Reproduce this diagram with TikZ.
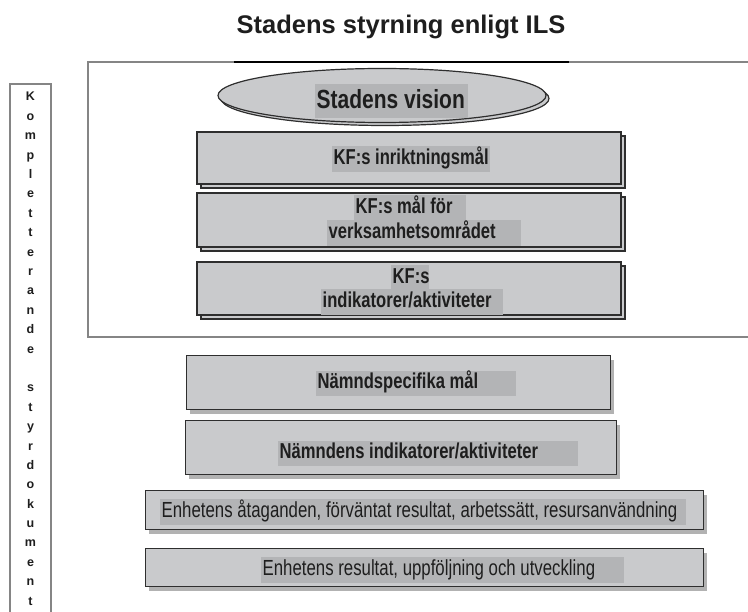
\documentclass[tikz,border=0pt]{standalone}
\usepackage{fontspec}
\setmainfont{Liberation Sans}
\usetikzlibrary{shapes.geometric,shadows}
\definecolor{boxfill}{HTML}{C9CACC}
\definecolor{hlgray}{HTML}{B3B4B6}
\definecolor{edge}{HTML}{2E2E2E}
\definecolor{shade}{HTML}{B2B2B2}
\definecolor{frame}{HTML}{858585}
\definecolor{ink}{HTML}{1E1E1E}
\newcommand{\tallA}[1]{\scalebox{1}[1.3]{#1}}
\begin{document}
\begin{tikzpicture}[x=1pt,y=-1pt,
  topbox/.style={rectangle,draw=edge,fill=boxfill,line width=1.1pt,inner sep=0pt,outer sep=0pt,
    copy shadow={shadow xshift=4pt,shadow yshift=-4pt}},
  lowbox/.style={rectangle,draw=edge,fill=boxfill,line width=1pt,inner sep=0pt,outer sep=0pt,
    drop shadow={shadow xshift=4pt,shadow yshift=-4pt,fill=shade,opacity=1}},
  hl/.style={fill=hlgray,text=ink,inner xsep=1.5pt,inner ysep=3pt,text height=15pt,text depth=4.5pt,
    anchor=west,font=\bfseries\fontsize{16.6}{18}\selectfont},
  hlreg/.style={hl,font=\fontsize{16.8}{18}\selectfont},
  framepen/.style={draw=frame,line width=1.2pt}]
\useasboundingbox (0,0) rectangle (748,612);
\fill[white] (0,0) rectangle (748,612);

% title
\node[anchor=base,text=ink,font=\bfseries\fontsize{25.5}{30}\selectfont] (title) at (401,34) {Stadens styrning enligt ILS};

% outer frame
\draw[framepen] (760,62) -- (88,62) -- (88,337) -- (760,337);
\coordinate (tl) at (234,62);
\coordinate (tr) at (569,62);
\draw[line width=2pt,black] (tl) -- (tr);

% left column
\draw[framepen] (10,625) -- (10,84) -- (51,84) -- (51,625);
\node[anchor=north,align=center,inner sep=0pt,text=ink,font=\bfseries\fontsize{12.5}{19.4}\selectfont] (side) at (30.5,92)
 {K\\o\\m\\p\\l\\e\\t\\t\\e\\r\\a\\n\\d\\e\\~\\s\\t\\y\\r\\d\\o\\k\\u\\m\\e\\n\\t};

% vision ellipse
\node[ellipse,draw=edge,fill=boxfill,line width=1.2pt,inner sep=0pt,minimum width=328pt,minimum height=54pt,
  copy shadow={shadow xshift=3pt,shadow yshift=-3pt}] (vision) at (382,95.5) {};
\node[hl,inner ysep=4.5pt,text height=20pt,text depth=5pt,font=\bfseries\fontsize{21}{24}\selectfont] (visiontxt) at (315,101)
 {\makebox[150pt][l]{\scalebox{1}[1.25]{Stadens vision}}};

% KF boxes
\node[topbox,minimum width=424pt,minimum height=52pt] (b1) at (409,158) {};
\node[topbox,minimum width=424pt,minimum height=54pt] (b2) at (409,220) {};
\node[topbox,minimum width=424pt,minimum height=53pt] (b3) at (409,288.5) {};
\node[hl] (t1) at (332,159) {\makebox[155pt][l]{\tallA{KF:s inriktningsmål}}};
\node[hl] (t2a) at (354,208) {\makebox[109pt][l]{\tallA{KF:s mål för}}};
\node[hl] (t2b) at (327,233) {\makebox[191pt][l]{\tallA{verksamhetsområdet}}};
\node[hl] (t3a) at (391,278) {\makebox[35pt][l]{\tallA{KF:s}}};
\node[hl] (t3b) at (321,302) {\makebox[179pt][l]{\tallA{indikatorer/aktiviteter}}};

% lower boxes
\node[lowbox,minimum width=424pt,minimum height=54pt] (b4) at (398,383) {};
\node[lowbox,minimum width=431pt,minimum height=54pt] (b5) at (400.5,448) {};
\node[lowbox,minimum width=558pt,minimum height=39pt] (b6) at (424,510.5) {};
\node[lowbox,minimum width=558pt,minimum height=38pt] (b7) at (424,568) {};
\node[hl] (t4) at (316,383.5) {\makebox[197pt][l]{\tallA{Nämndspecifika mål}}};
\node[hl] (t5) at (278,453.5) {\makebox[297pt][l]{\tallA{Nämndens indikatorer/aktiviteter}}};
\node[hlreg] (t6) at (160,512) {\makebox[523pt][l]{\tallA{Enhetens åtaganden, förväntat resultat, arbetssätt, resursanvändning}}};
\node[hlreg] (t7) at (261,570) {\makebox[360pt][l]{\tallA{Enhetens resultat, uppföljning och utveckling}}};
\end{tikzpicture}
\end{document}
